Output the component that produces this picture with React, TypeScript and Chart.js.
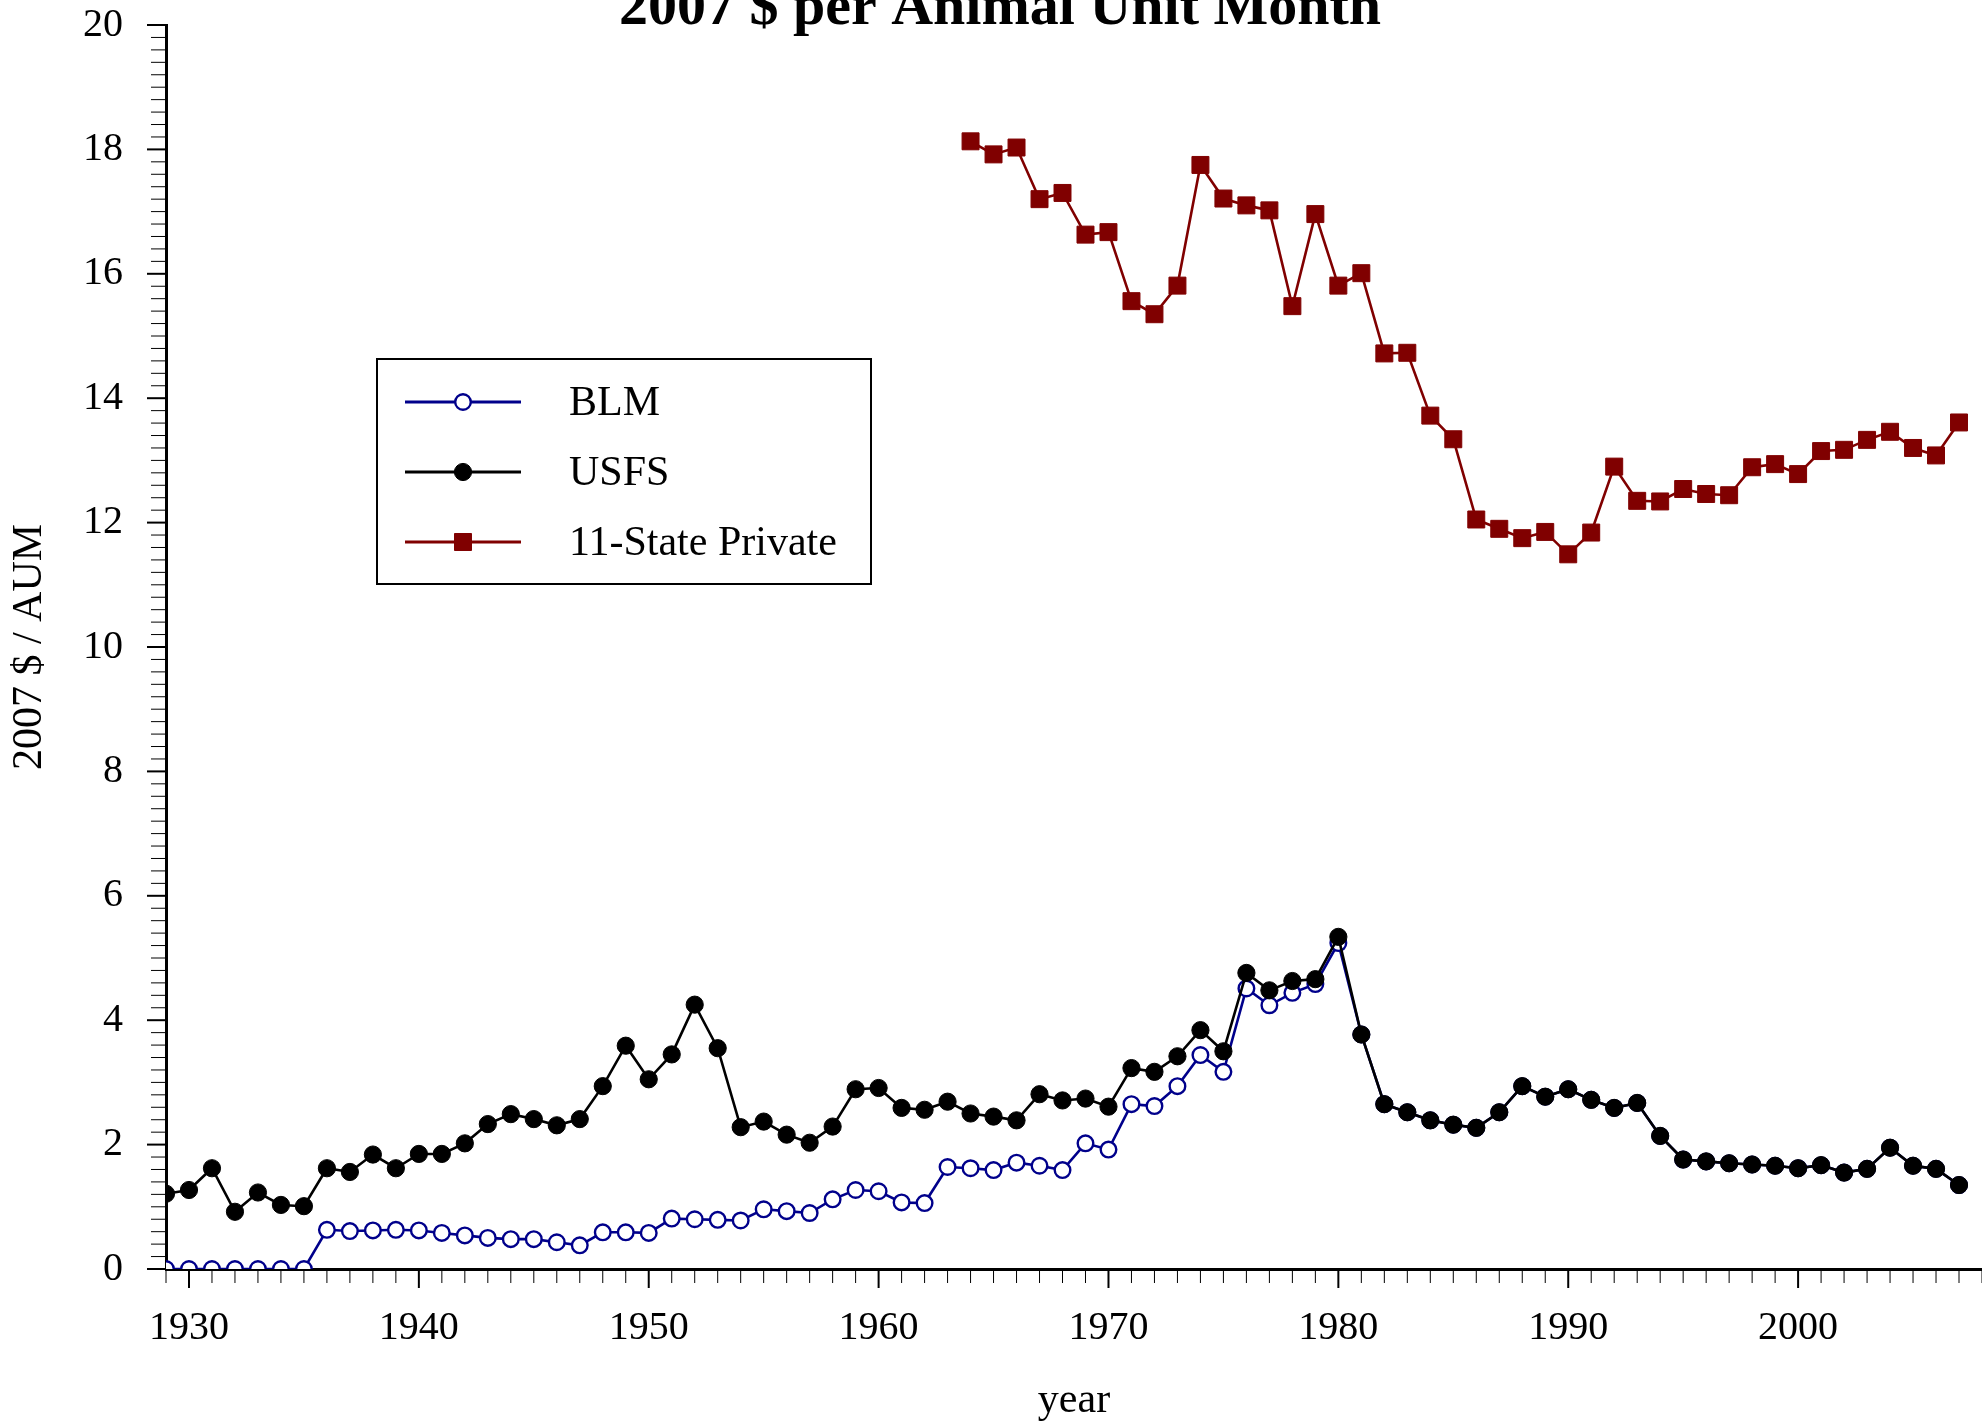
import React, { useEffect, useRef } from 'react';
import { Chart, registerables } from 'chart.js';

Chart.register(...registerables);

const FONT = '"Liberation Serif", "Times New Roman", serif';

const years = [
  1929, 1930, 1931, 1932, 1933, 1934, 1935, 1936, 1937, 1938,
  1939, 1940, 1941, 1942, 1943, 1944, 1945, 1946, 1947, 1948,
  1949, 1950, 1951, 1952, 1953, 1954, 1955, 1956, 1957, 1958,
  1959, 1960, 1961, 1962, 1963, 1964, 1965, 1966, 1967, 1968,
  1969, 1970, 1971, 1972, 1973, 1974, 1975, 1976, 1977, 1978,
  1979, 1980, 1981, 1982, 1983, 1984, 1985, 1986, 1987, 1988,
  1989, 1990, 1991, 1992, 1993, 1994, 1995, 1996, 1997, 1998,
  1999, 2000, 2001, 2002, 2003, 2004, 2005, 2006, 2007,
];

const blmValues = [
  0, 0, 0, 0, 0, 0, 0, 0.63, 0.61, 0.62,
  0.63, 0.62, 0.58, 0.54, 0.5, 0.48, 0.48, 0.43, 0.38, 0.59,
  0.59, 0.58, 0.81, 0.8, 0.79, 0.78, 0.96, 0.93, 0.9, 1.12,
  1.27, 1.25, 1.07, 1.06, 1.64, 1.62, 1.59, 1.71, 1.66, 1.59,
  2.02, 1.92, 2.65, 2.62, 2.94, 3.44, 3.17, 4.51, 4.24, 4.44,
  4.58, 5.24, 3.77, 2.65, 2.52, 2.39, 2.32, 2.27, 2.52, 2.94,
  2.77, 2.89, 2.72, 2.59, 2.67, 2.14, 1.76, 1.73, 1.7, 1.68,
  1.66, 1.62, 1.67, 1.55, 1.61, 1.95, 1.66, 1.61, 1.35,
];

const usfsValues = [
  1.21, 1.27, 1.62, 0.92, 1.23, 1.03, 1.01, 1.62, 1.56, 1.84,
  1.62, 1.85, 1.85, 2.02, 2.33, 2.49, 2.41, 2.31, 2.41, 2.94,
  3.59, 3.05, 3.45, 4.25, 3.55, 2.28, 2.37, 2.16, 2.03, 2.29,
  2.89, 2.91, 2.59, 2.56, 2.69, 2.5, 2.45, 2.39, 2.81, 2.71,
  2.74, 2.61, 3.23, 3.17, 3.42, 3.84, 3.5, 4.76, 4.48, 4.63,
  4.66, 5.34, 3.77, 2.65, 2.52, 2.39, 2.32, 2.27, 2.52, 2.94,
  2.77, 2.89, 2.72, 2.59, 2.67, 2.14, 1.76, 1.73, 1.7, 1.68,
  1.66, 1.62, 1.67, 1.55, 1.61, 1.95, 1.66, 1.61, 1.35,
];

const privateYears = [
  1964, 1965, 1966, 1967, 1968, 1969, 1970, 1971, 1972, 1973,
  1974, 1975, 1976, 1977, 1978, 1979, 1980, 1981, 1982, 1983,
  1984, 1985, 1986, 1987, 1988, 1989, 1990, 1991, 1992, 1993,
  1994, 1995, 1996, 1997, 1998, 1999, 2000, 2001, 2002, 2003,
  2004, 2005, 2006, 2007,
];

const privateValues = [
  18.13, 17.92, 18.03, 17.2, 17.3, 16.63, 16.67, 15.56, 15.35, 15.81,
  17.75, 17.21, 17.1, 17.02, 15.48, 16.96, 15.81, 16.01, 14.72, 14.73,
  13.72, 13.34, 12.05, 11.9, 11.75, 11.85, 11.49, 11.84, 12.9, 12.35,
  12.34, 12.54, 12.46, 12.44, 12.89, 12.94, 12.78, 13.15, 13.17, 13.33,
  13.46, 13.2, 13.08, 13.61,
];

const xTickLabels = [1930, 1940, 1950, 1960, 1970, 1980, 1990, 2000];

const TITLE = '2007 $ per Animal Unit Month';
const Y_TITLE = '2007 $ / AUM';
const X_TITLE = 'year';

const BLM_COLOR = '#00008B';
const USFS_COLOR = '#000000';
const PRIVATE_COLOR = '#800000';

const ticksPlugin = {
  id: 'customTicks',
  afterDraw(chart: any) {
    const { ctx, chartArea } = chart;
    const xs = chart.scales.x;
    const ys = chart.scales.y;
    ctx.save();
    ctx.strokeStyle = '#000';
    for (let i = 0; i <= 100; i++) {
      const v = i * 0.2;
      const major = i % 10 === 0;
      const y = ys.getPixelForValue(v);
      ctx.lineWidth = major ? 2 : 1;
      ctx.beginPath();
      ctx.moveTo(chartArea.left, y);
      ctx.lineTo(chartArea.left - (major ? 19 : 15), y);
      ctx.stroke();
    }
    for (let yr = xs.min; yr <= xs.max; yr++) {
      const major = yr % 10 === 0;
      const x = xs.getPixelForValue(yr);
      ctx.lineWidth = major ? 2 : 1;
      ctx.beginPath();
      ctx.moveTo(x, chartArea.bottom);
      ctx.lineTo(x, chartArea.bottom + (major ? 19 : 14));
      ctx.stroke();
    }
    ctx.restore();
  },
};

const titlePlugin = {
  id: 'topTitle',
  afterDraw(chart: any) {
    const { ctx } = chart;
    ctx.save();
    ctx.font = `bold 58px ${FONT}`;
    ctx.fillStyle = '#000';
    ctx.textAlign = 'center';
    ctx.textBaseline = 'alphabetic';
    ctx.fillText(TITLE, 1000, 24);
    ctx.restore();
  },
};

const legendPlugin = {
  id: 'boxLegend',
  afterDraw(chart: any) {
    const { ctx } = chart;
    const boxL = 377, boxT = 359, boxR = 871, boxB = 584;
    ctx.save();
    ctx.fillStyle = '#fff';
    ctx.fillRect(boxL, boxT, boxR - boxL, boxB - boxT);
    ctx.strokeStyle = '#000';
    ctx.lineWidth = 2;
    ctx.strokeRect(boxL, boxT, boxR - boxL, boxB - boxT);
    const rows = [402, 472, 542];
    const legendOrder = [0, 1, 2];
    legendOrder.forEach((di, i) => {
      const ds = chart.data.datasets[di];
      const y = rows[i];
      ctx.strokeStyle = ds.borderColor;
      ctx.lineWidth = 3;
      ctx.beginPath();
      ctx.moveTo(405, y);
      ctx.lineTo(521, y);
      ctx.stroke();
      const cx = 463;
      ctx.fillStyle = ds.pointBackgroundColor;
      ctx.strokeStyle = ds.pointBorderColor;
      ctx.lineWidth = ds.pointBorderWidth;
      if (ds.pointStyle === 'rect') {
        const s = ds.pointRadius * Math.SQRT1_2;
        ctx.beginPath();
        ctx.rect(cx - s, y - s, 2 * s, 2 * s);
        ctx.fill();
        ctx.stroke();
      } else {
        ctx.beginPath();
        ctx.arc(cx, y, ds.pointRadius, 0, Math.PI * 2);
        ctx.fill();
        ctx.stroke();
      }
      ctx.fillStyle = '#000';
      ctx.font = `42px ${FONT}`;
      ctx.textAlign = 'left';
      ctx.textBaseline = 'middle';
      ctx.fillText(ds.label, 569, y + 2);
    });
    ctx.restore();
  },
};

export default function App() {
  const canvasRef = useRef<HTMLCanvasElement | null>(null);

  useEffect(() => {
    document.body.style.margin = '0';
    const canvas = canvasRef.current;
    if (!canvas) return;

    const blmData = years.map((yr, i) => ({ x: yr, y: blmValues[i] }));
    const usfsData = years.map((yr, i) => ({ x: yr, y: usfsValues[i] }));
    const privateData = privateYears.map((yr, i) => ({ x: yr, y: privateValues[i] }));

    const chart = new Chart(canvas, {
      type: 'line',
      data: {
        datasets: [
          {
            label: 'BLM',
            data: blmData,
            borderColor: BLM_COLOR,
            borderWidth: 2.6,
            pointStyle: 'circle',
            pointRadius: 7.8,
            pointBorderWidth: 2.4,
            pointBackgroundColor: '#ffffff',
            pointBorderColor: BLM_COLOR,
            order: 3,
          },
          {
            label: 'USFS',
            data: usfsData,
            borderColor: USFS_COLOR,
            borderWidth: 2.6,
            pointStyle: 'circle',
            pointRadius: 8.6,
            pointBorderWidth: 1,
            pointBackgroundColor: USFS_COLOR,
            pointBorderColor: USFS_COLOR,
            order: 1,
          },
          {
            label: '11-State Private',
            data: privateData,
            borderColor: PRIVATE_COLOR,
            borderWidth: 2.6,
            pointStyle: 'rect',
            pointRadius: 12,
            pointBorderWidth: 1,
            pointBackgroundColor: PRIVATE_COLOR,
            pointBorderColor: PRIVATE_COLOR,
            order: 2,
          },
        ],
      },
      options: {
        responsive: false,
        animation: false,
        devicePixelRatio: 1,
        layout: { autoPadding: false, padding: { top: 25, right: 0, left: 0, bottom: 0 } },
        plugins: {
          legend: { display: false },
          tooltip: { enabled: false },
          title: { display: false },
        },
        elements: { line: { tension: 0 } },
        scales: {
          x: {
            type: 'linear',
            min: 1929,
            max: 2008,
            afterFit: (s: any) => {
              s.height = 153;
            },
            afterBuildTicks: (s: any) => {
              s.ticks = xTickLabels.map((v) => ({ value: v }));
            },
            grid: { display: false, drawTicks: true, tickLength: 35 },
            border: { display: true, color: '#000', width: 3 },
            ticks: {
              color: '#000',
              font: { family: FONT, size: 40 },
              padding: 0,
              maxRotation: 0,
              autoSkip: false,
              callback: (v: any) => String(v),
            },
            title: {
              display: true,
              text: X_TITLE,
              color: '#000',
              font: { family: FONT, size: 42, lineHeight: 1.0 },
              padding: { top: 0, bottom: 0 },
            },
          },
          y: {
            type: 'linear',
            min: 0,
            max: 20,
            afterFit: (s: any) => {
              s.width = 166;
            },
            grid: { display: false, drawTicks: true, tickLength: 43 },
            border: { display: true, color: '#000', width: 3 },
            ticks: {
              stepSize: 2,
              color: '#000',
              font: { family: FONT, size: 40 },
              padding: 0,
              callback: (v: any) => String(v),
            },
            title: {
              display: true,
              text: Y_TITLE,
              color: '#000',
              font: { family: FONT, size: 42 },
              padding: { top: 5, bottom: 0 },
            },
          },
        },
      },
      plugins: [ticksPlugin, titlePlugin, legendPlugin],
    } as any);

    return () => {
      chart.destroy();
    };
  }, []);

  return (
    <canvas
      ref={canvasRef}
      width={1982}
      height={1422}
      style={{ display: 'block', width: '1982px', height: '1422px' }}
    />
  );
}
